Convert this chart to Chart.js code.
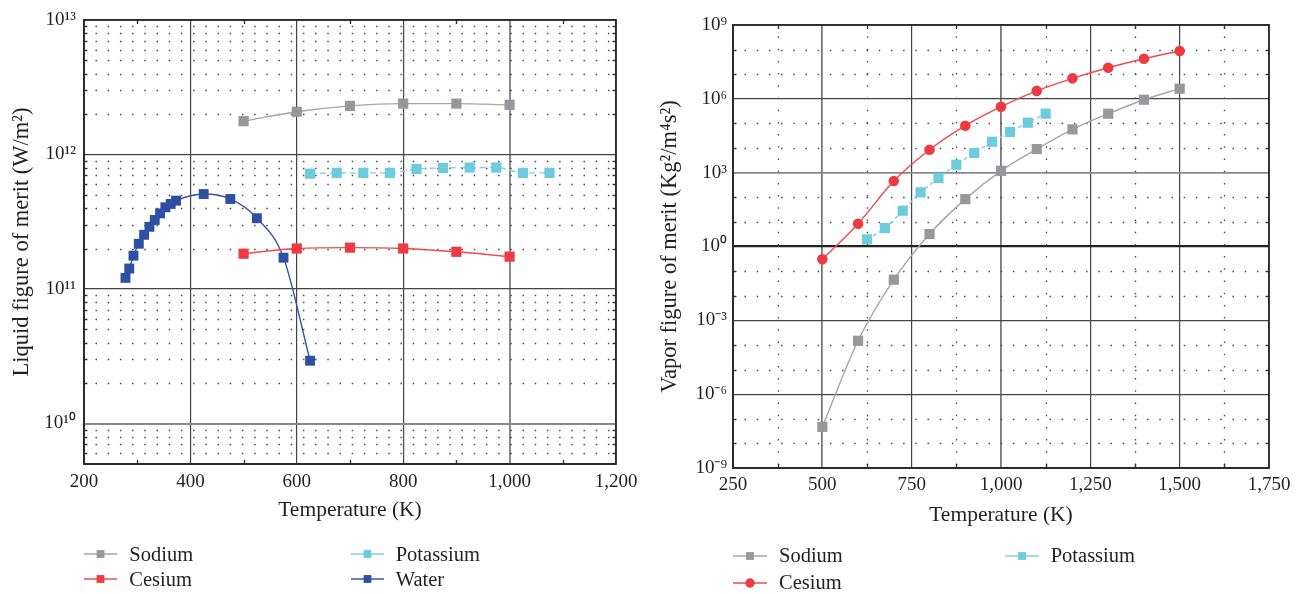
<!DOCTYPE html>
<html><head><meta charset="utf-8">
<script src="https://cdn.jsdelivr.net/npm/chart.js@4/dist/chart.umd.min.js"></script>
<style>
html,body{margin:0;padding:0;background:#fff;width:1303px;height:594px;overflow:hidden;font-family:"Liberation Serif",serif;}
#cL{position:absolute;left:0;top:0;}
#cR{position:absolute;left:650px;top:0;}
.leg{position:absolute;font-size:20.5px;line-height:20.5px;color:#231f20;white-space:nowrap;font-family:"Liberation Serif",serif;}
.ico{position:absolute;}
</style></head><body>
<canvas id="cL" width="650" height="594" style="width:650px;height:594px"></canvas>
<canvas id="cR" width="653" height="594" style="width:653px;height:594px"></canvas>
<div id="legends"></div>
<script>
// ---------- Left chart: liquid figure of merit ----------
const liqSodiumT = [500, 600, 700, 800, 900, 1000];
const liqSodium = [1.77e12, 2.08e12, 2.3e12, 2.39e12, 2.39e12, 2.34e12];
const liqCesiumT = [500, 600, 700, 800, 900, 1000];
const liqCesium = [1.83e11, 2.0e11, 2.03e11, 2.0e11, 1.89e11, 1.74e11];
const liqPotassiumT = [625, 675, 725, 775, 825, 875, 925, 975, 1025, 1075];
const liqPotassium = [7.2e11, 7.3e11, 7.3e11, 7.3e11, 7.8e11, 7.95e11, 8.0e11, 8.0e11, 7.3e11, 7.3e11];
const liqWaterT = [278, 285, 293, 303, 313, 323, 333, 343, 353, 363, 373, 425, 475, 525, 575, 625];
const liqWater = [1.21e11, 1.42e11, 1.77e11, 2.17e11, 2.53e11, 2.9e11, 3.26e11, 3.65e11, 4.05e11, 4.29e11, 4.54e11, 5.08e11, 4.67e11, 3.36e11, 1.71e11, 2.93e10];
const liqXTicks = [200, 400, 600, 800, 1000, 1200];
const liqXLabels = ['200', '400', '600', '800', '1,000', '1,200'];
const liqYTicks = [1e10, 1e11, 1e12, 1e13];
const liqYLabels = ['10\u00B9\u2070', '10\u00B9\u00B9', '10\u00B9\u00B2', '10\u00B9\u00B3'];
const liqXMinor = [300, 500, 700, 900, 1100];

// ---------- Right chart: vapor figure of merit ----------
const vapSodiumT = [500, 600, 700, 800, 900, 1000, 1100, 1200, 1300, 1400, 1500];
const vapSodium = [4.7e-8, 1.48e-4, 0.045, 3.2, 84, 1.19e3, 9.1e3, 5.75e4, 2.48e5, 9.2e5, 2.58e6];
const vapCesiumT = [500, 600, 700, 800, 900, 1000, 1100, 1200, 1300, 1400, 1500];
const vapCesium = [0.3, 8.4, 456, 8.5e3, 8.1e4, 4.8e5, 2.1e6, 6.8e6, 1.84e7, 4.27e7, 8.8e7];
const vapPotassiumT = [625, 675, 725, 775, 825, 875, 925, 975, 1025, 1075, 1125];
const vapPotassium = [1.94, 5.6, 28.4, 158, 603, 2.1e3, 6.3e3, 1.8e4, 4.5e4, 1.07e5, 2.5e5];
const vapXTicks = [250, 500, 750, 1000, 1250, 1500, 1750];
const vapXLabels = ['250', '500', '750', '1,000', '1,250', '1,500', '1,750'];
const vapYTicks = [1e-9, 1e-6, 1e-3, 1e0, 1e3, 1e6, 1e9];
const vapYLabels = ['10\u207B\u2079', '10\u207B\u2076', '10\u207B\u00B3', '10\u2070', '10\u00B3', '10\u2076', '10\u2079'];
const vapXMinor = [375, 625, 875, 1125, 1375, 1625];

const COL = {
  sodium: '#97989c', sodiumLine: '#a6a6a8',
  cesium: '#ee3b43', cesiumLine: '#ef4a50',
  potassium: '#6ccbdd', potassiumLine: '#7fd2e2',
  water: '#2f4fa2', waterLine: '#3657a8',
  text: '#231f20'
};

function ds(label, xs, ys, color, lineColor, style, radius, dash) {
  return {
    label, data: xs.map((x, i) => ({x: x, y: ys[i]})),
    borderColor: lineColor, backgroundColor: color,
    pointBackgroundColor: color, pointBorderColor: color, pointBorderWidth: 0,
    pointStyle: style, pointRadius: radius, pointHoverRadius: radius,
    borderWidth: 1.4, borderDash: dash || [], cubicInterpolationMode: 'monotone',
    fill: false, clip: false
  };
}

const minorGrid = {
  id: 'minorGrid',
  beforeDatasetsDraw(chart, args, o) {
    const {ctx, chartArea: a, scales: {x, y}} = chart;
    ctx.save();
    ctx.strokeStyle = '#4a4a4a';
    ctx.lineWidth = 1.3;
    ctx.setLineDash([1.5, 10.7]);
    (o.yMinor || []).forEach(v => {
      const py = Math.round(y.getPixelForValue(v)) + 0.5;
      ctx.beginPath(); ctx.moveTo(a.left + 11.5, py); ctx.lineTo(a.right - 2, py); ctx.stroke();
    });
    if (o.xDotted) {
      (o.xMinor || []).forEach(v => {
        const px = Math.round(x.getPixelForValue(v)) + 0.5;
        ctx.beginPath(); ctx.moveTo(px, a.top + 11.5); ctx.lineTo(px, a.bottom - 2); ctx.stroke();
      });
    }
    ctx.setLineDash([]);
    ctx.strokeStyle = '#333';
    ctx.lineWidth = 1.4;
    (o.yMinor || []).forEach(v => {
      const py = Math.round(y.getPixelForValue(v)) + 0.5;
      ctx.beginPath(); ctx.moveTo(a.left, py); ctx.lineTo(a.left + 3.5, py); ctx.stroke();
      ctx.beginPath(); ctx.moveTo(a.right, py); ctx.lineTo(a.right - 3.5, py); ctx.stroke();
    });
    (o.xMinor || []).forEach(v => {
      const px = Math.round(x.getPixelForValue(v)) + 0.5;
      ctx.beginPath(); ctx.moveTo(px, a.top); ctx.lineTo(px, a.top + 4); ctx.stroke();
      ctx.beginPath(); ctx.moveTo(px, a.bottom); ctx.lineTo(px, a.bottom - 4); ctx.stroke();
    });
    ctx.strokeStyle = '#2b2b2b';
    ctx.lineWidth = 1.8;
    ctx.strokeRect(a.left, a.top, a.right - a.left, a.bottom - a.top);
    ctx.restore();
  }
};

const tickFont = {family: 'Liberation Serif', size: 19};
const xTitleFont = {family: 'Liberation Serif', size: 21.5};
const yTitleFont = {family: 'Liberation Serif', size: 22.5};

function makeChart(id, datasets, cfg) {
  return new Chart(document.getElementById(id), {
    type: 'line',
    data: {datasets},
    options: {
      responsive: false, animation: false, events: [],
      layout: {padding: {left: 0, top: cfg.top, right: 34, bottom: cfg.bottomPad}},
      plugins: {legend: {display: false}, tooltip: {enabled: false}, minorGrid: cfg.minor},
      scales: {
        x: {
          type: 'linear', min: cfg.xMin, max: cfg.xMax,
          afterBuildTicks(s) { s.ticks = cfg.xTicks.map(v => ({value: v})); },
          afterFit(s) { s.height = cfg.xHeight; },
          ticks: {
            font: tickFont, color: COL.text, padding: cfg.xTickPad, maxRotation: 0, autoSkip: false,
            callback: (v) => cfg.xLabels[cfg.xTicks.indexOf(v)]
          },
          grid: {drawTicks: false, color: cfg.xGridColor, lineWidth: cfg.xGridWidth},
          border: {color: '#2b2b2b', width: 1.8},
          title: {display: true, text: 'Temperature (K)', font: xTitleFont, color: COL.text, padding: {top: 0, bottom: 0}}
        },
        y: {
          type: 'logarithmic', min: cfg.yMin, max: cfg.yMax,
          afterBuildTicks(s) { s.ticks = cfg.yTicks.map(v => ({value: v, major: true})); },
          afterFit(s) { s.width = cfg.yWidth; },
          ticks: {
            font: tickFont, color: COL.text, padding: cfg.yTickPad, autoSkip: false,
            callback: (v) => { const i = cfg.yTicks.findIndex(t => Math.abs(Math.log10(t) - Math.log10(v)) < 1e-6); return i >= 0 ? cfg.yLabels[i] : ''; }
          },
          grid: {drawTicks: false, color: cfg.yGridColor, lineWidth: cfg.yGridWidth},
          border: {color: '#2b2b2b', width: 1.8},
          title: {display: true, text: cfg.yTitle, font: yTitleFont, color: COL.text, padding: {top: cfg.yTitlePad, bottom: 0}}
        }
      }
    },
    plugins: [minorGrid]
  });
}

// minor positions (grid decoration only)
const liqYMinor = [];
for (let d = 9; d <= 12; d++) for (let k = 2; k <= 9; k++) { const v = k * Math.pow(10, d); if (v > 5e9 && v < 1e13) liqYMinor.push(v); }
const vapYMinor = [];
for (let d = -8; d <= 8; d++) if (d % 3 !== 0) vapYMinor.push(Math.pow(10, d));

makeChart('cL', [
  ds('Sodium', liqSodiumT, liqSodium, COL.sodium, COL.sodiumLine, 'rect', 7.2),
  ds('Cesium', liqCesiumT, liqCesium, COL.cesium, COL.cesiumLine, 'rect', 7.2),
  ds('Water', liqWaterT, liqWater, COL.water, COL.waterLine, 'rect', 7.0),
  ds('Potassium', liqPotassiumT, liqPotassium, COL.potassium, COL.potassiumLine, 'rect', 7.2, [6, 4])
], {
  top: 20, bottomPad: 71.1, xHeight: 58.9, xTickPad: 7, yWidth: 84, yTickPad: 8, yTitlePad: 9,
  xMin: 200, xMax: 1200, xTicks: liqXTicks, xLabels: liqXLabels,
  yMin: 5e9, yMax: 1e13, yTicks: liqYTicks, yLabels: liqYLabels,
  yTitle: 'Liquid figure of merit (W/m\u00B2)',
  xGridColor: (c) => c.tick && c.tick.value === 1000 ? '#8a8a8a' : '#444',
  xGridWidth: (c) => c.tick && c.tick.value === 1000 ? 2 : 1.2,
  yGridColor: (c) => c.tick && c.tick.value === 1e10 ? '#8a8a8a' : '#444',
  yGridWidth: (c) => c.tick && c.tick.value === 1e10 ? 2 : 1.2,
  minor: {yMinor: liqYMinor, xMinor: liqXMinor, xDotted: false}
});

makeChart('cR', [
  ds('Cesium', vapCesiumT, vapCesium, COL.cesium, COL.cesiumLine, 'circle', 5.3),
  ds('Sodium', vapSodiumT, vapSodium, COL.sodium, COL.sodiumLine, 'rect', 7.2),
  ds('Potassium', vapPotassiumT, vapPotassium, COL.potassium, COL.potassiumLine, 'rect', 7.2, [4, 3])
], {
  top: 25, bottomPad: 66.1, xHeight: 59.9, xTickPad: 6, yWidth: 83, yTickPad: 6, yTitlePad: 6.5,
  xMin: 250, xMax: 1750, xTicks: vapXTicks, xLabels: vapXLabels,
  yMin: 1e-9, yMax: 1e9, yTicks: vapYTicks, yLabels: vapYLabels,
  yTitle: 'Vapor figure of merit (Kg\u00B2/m\u2074s\u00B2)',
  xGridColor: (c) => c.tick && (c.tick.value === 500 || c.tick.value === 1000) ? '#7a7a7a' : '#444',
  xGridWidth: (c) => c.tick && (c.tick.value === 500 || c.tick.value === 1000) ? 1.8 : 1.2,
  yGridColor: (c) => c.tick && c.tick.value === 1e3 ? '#8a8a8a' : (c.tick && c.tick.value === 1 ? '#222' : '#444'),
  yGridWidth: (c) => c.tick && c.tick.value === 1 ? 2.2 : (c.tick && c.tick.value === 1e3 ? 1.8 : 1.2),
  minor: {yMinor: vapYMinor, xMinor: vapXMinor, xDotted: true}
});

// ---------- HTML legends ----------
const legendItems = [
  {label: 'Sodium', color: COL.sodium, line: COL.sodiumLine, shape: 'rect', x1: 84, x2: 117, tx: 129.3, y: 554},
  {label: 'Cesium', color: COL.cesium, line: COL.cesiumLine, shape: 'rect', x1: 84, x2: 117, tx: 129.3, y: 579.3},
  {label: 'Potassium', color: COL.potassium, line: COL.potassiumLine, shape: 'rect', x1: 350.7, x2: 383, tx: 395.7, y: 554},
  {label: 'Water', color: COL.water, line: COL.waterLine, shape: 'rect', x1: 350.7, x2: 383, tx: 395.7, y: 579.3},
  {label: 'Sodium', color: COL.sodium, line: COL.sodiumLine, shape: 'rect', x1: 732.7, x2: 766.7, tx: 779, y: 555.8},
  {label: 'Cesium', color: COL.cesium, line: COL.cesiumLine, shape: 'circle', x1: 732.7, x2: 766.7, tx: 779, y: 582.5},
  {label: 'Potassium', color: COL.potassium, line: COL.potassiumLine, shape: 'rect', x1: 1005, x2: 1038.3, tx: 1050.7, y: 555.8}
];
const host = document.getElementById('legends');
legendItems.forEach(it => {
  const w = Math.ceil(it.x2 - it.x1) + 2, h = 14;
  const c = document.createElement('canvas');
  c.width = w; c.height = h; c.className = 'ico';
  c.style.left = (it.x1 - 1) + 'px'; c.style.top = (it.y - 7) + 'px';
  const g = c.getContext('2d');
  g.strokeStyle = it.line; g.lineWidth = 1.4;
  g.beginPath(); g.moveTo(1, 7); g.lineTo(w - 1, 7); g.stroke();
  g.fillStyle = it.color;
  const cx = w / 2;
  if (it.shape === 'circle') { g.beginPath(); g.arc(cx, 7, 4.7, 0, Math.PI * 2); g.fill(); }
  else { g.fillRect(cx - 3.9, 7 - 3.9, 7.8, 7.8); }
  host.appendChild(c);
  const t = document.createElement('div');
  t.className = 'leg'; t.textContent = it.label;
  t.style.left = it.tx + 'px'; t.style.top = (it.y - 10.4) + 'px';
  host.appendChild(t);
});
</script>
</body></html>
